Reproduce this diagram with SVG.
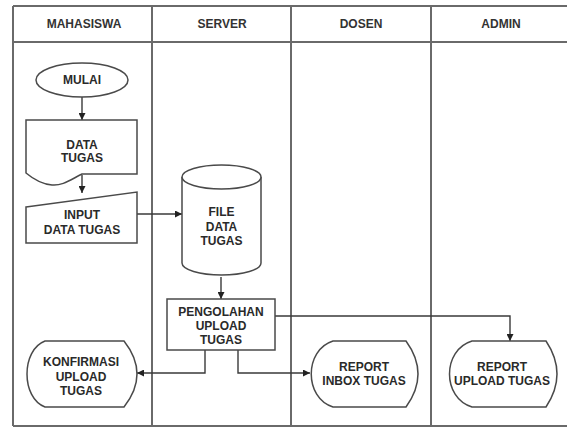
<svg xmlns="http://www.w3.org/2000/svg" width="567" height="428" viewBox="0 0 567 428">
<style>
.frame{fill:none;stroke:#6a6a6a;stroke-width:2}
.shape{fill:#fff;stroke:#4a4a4a;stroke-width:1.5}
.conn{fill:none;stroke:#3a3a3a;stroke-width:1.4}
text{font-family:"Liberation Sans",Arial,sans-serif;font-weight:bold;font-size:12px;fill:#2a2a2a;text-anchor:middle}
.hdr{font-size:12px;fill:#333}
</style>
<defs>
<marker id="ah" viewBox="0 0 10 10" refX="10" refY="5" markerWidth="7" markerHeight="7" markerUnits="userSpaceOnUse" orient="auto">
<path d="M0,0 L10,5 L0,10 Z" fill="#222"/>
</marker>
</defs>
<rect width="567" height="428" fill="#fff"/>
<g id="swimlanes">
<line class="frame" x1="13" y1="6" x2="567" y2="6" stroke="#aaa"/>
<line class="frame" x1="13" y1="42" x2="567" y2="42"/>
<line class="frame" x1="13" y1="426" x2="567" y2="426"/>
<line class="frame" x1="13" y1="6" x2="13" y2="426"/>
<line class="frame" x1="152" y1="6" x2="152" y2="426"/>
<line class="frame" x1="291" y1="6" x2="291" y2="426"/>
<line class="frame" x1="431" y1="6" x2="431" y2="426"/>
<text class="hdr" x="84" y="28">MAHASISWA</text>
<text class="hdr" x="222" y="28">SERVER</text>
<text class="hdr" x="361" y="28">DOSEN</text>
<text class="hdr" x="501" y="28">ADMIN</text>
</g>
<g id="connectors">
<line class="conn" x1="82" y1="97" x2="82" y2="120" marker-end="url(#ah)"/>
<line class="conn" x1="82" y1="175" x2="82" y2="193" marker-end="url(#ah)"/>
<line class="conn" x1="137" y1="214" x2="182" y2="214" marker-end="url(#ah)"/>
<line class="conn" x1="221" y1="277" x2="221" y2="299" marker-end="url(#ah)"/>
<polyline class="conn" points="205,350 205,373 137,373" marker-end="url(#ah)"/>
<polyline class="conn" points="238,350 238,373 310,373" marker-end="url(#ah)"/>
<polyline class="conn" points="275,316 510,316 510,341" marker-end="url(#ah)"/>
</g>
<g id="mulai">
<ellipse class="shape" cx="82" cy="80" rx="46" ry="17"/>
<text x="82" y="84">MULAI</text>
</g>
<g id="data-tugas">
<path class="shape" d="M26,120 L137,120 L137,174 L82,174 C70,180 62,186 52,185 C40,184 32,178 26,173 Z"/>
<text x="82" y="149">DATA</text>
<text x="82" y="162">TUGAS</text>
</g>
<g id="input-data-tugas">
<path class="shape" d="M26,207 L137,192 L137,243 L26,243 Z"/>
<text x="82" y="219">INPUT</text>
<text x="82" y="234">DATA TUGAS</text>
</g>
<g id="file-data-tugas">
<path class="shape" d="M182,177 L182,263 A39.5,12 0 0 0 261,263 L261,177"/>
<ellipse class="shape" cx="221.5" cy="177" rx="39.5" ry="12"/>
<text x="221.5" y="216">FILE</text>
<text x="221.5" y="231">DATA</text>
<text x="221.5" y="245">TUGAS</text>
</g>
<g id="pengolahan">
<rect class="shape" x="167" y="299" width="108" height="51"/>
<text x="221" y="316">PENGOLAHAN</text>
<text x="221" y="330">UPLOAD</text>
<text x="221" y="344">TUGAS</text>
</g>
<g id="konfirmasi">
<path class="shape" d="M124,341 L45,341 C21,350 21,398 45,407 L124,407 Q150,374 124,341 Z"/>
<text x="81" y="366">KONFIRMASI</text>
<text x="81" y="381">UPLOAD</text>
<text x="81" y="395">TUGAS</text>
</g>
<g id="report-inbox">
<path class="shape" d="M406,341 L333,341 C304,350 304,398 333,407 L406,407 Q430,374 406,341 Z"/>
<text x="364" y="371">REPORT</text>
<text x="364" y="385">INBOX TUGAS</text>
</g>
<g id="report-upload">
<path class="shape" d="M546,341 L472,341 C442,350 442,398 472,407 L546,407 Q568,374 546,341 Z"/>
<text x="502" y="371">REPORT</text>
<text x="502" y="385">UPLOAD TUGAS</text>
</g>
</svg>
